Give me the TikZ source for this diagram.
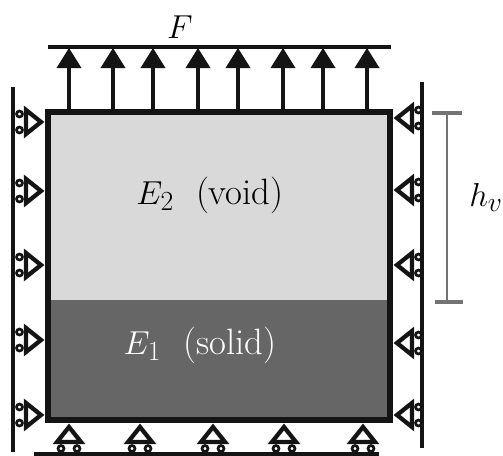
\documentclass[tikz,border=0pt]{standalone}
\usepackage{tikz}

\definecolor{voidgray}{gray}{0.85}
\definecolor{solidgray}{gray}{0.40}
\definecolor{inkblack}{gray}{0.08}
\definecolor{dimgray}{gray}{0.45}

\tikzset{
  wall/.style={draw=inkblack, line width=4.5pt},
  rod/.style={draw=inkblack, line width=2.6pt},
  bar/.style={draw=inkblack, line width=3.1pt},
  head/.style={fill=inkblack, draw=none},
  pin/.style={draw=inkblack, line width=3.2pt, fill=white, line join=miter},
  wheel/.style={draw=inkblack, line width=2pt, fill=white},
  dimline/.style={draw=dimgray, line width=1.6pt},
  dimcap/.style={draw=dimgray, line width=2.4pt},
  label/.style={inner sep=0pt, font=\fontsize{27.5}{32}\selectfont}
}

\begin{document}
\begin{tikzpicture}[x=0.75pt, y=-0.75pt]
  \newcommand{\storeCoordinate}[3]{
    \pgfcoordinate{#1}{\pgfpointxy{#2}{#3}}
  }
  % one roller support, tip at #1, turned by #2
  \newcommand{\rollerSupport}[2]{
    \begin{scope}[shift={(#1)}, rotate=#2]
      \draw[wheel] (-8,24.5) circle (3);
      \draw[wheel] (8,24.5) circle (3);
      \draw[pin] (0,3) -- (-12,18) -- (12,18) -- cycle;
    \end{scope}
  }

  \useasboundingbox (0,0) rectangle (503,455);

  \storeCoordinate{boxNW}{48}{112}
  \storeCoordinate{boxSE}{389.5}{420}
  \storeCoordinate{splitW}{48}{300}
  \storeCoordinate{splitE}{389.5}{300}

  % material layers
  \fill[voidgray] (boxNW) rectangle (splitE);
  \fill[solidgray] (splitW) rectangle (boxSE);
  \draw[wall, line join=miter] (boxNW) rectangle (boxSE);

  % load
  \storeCoordinate{barW}{48}{47}
  \storeCoordinate{barE}{391}{47}
  \draw[bar] (barW) -- (barE);
  \foreach \x in {69,113,153,198,238,283,323,367} {
    \draw[rod] (\x,110) -- (\x,60);
    \fill[head] (\x,48) -- (\x+12.5,68) -- (\x-12.5,68) -- cycle;
  }

  % walls
  \storeCoordinate{wallLT}{13}{87}
  \storeCoordinate{wallLB}{13}{452}
  \storeCoordinate{wallRT}{422}{82}
  \storeCoordinate{wallRB}{422}{448}
  \storeCoordinate{floorW}{34}{454}
  \storeCoordinate{floorE}{379}{454}
  \draw[bar] (wallLT) -- (wallLB);
  \draw[bar, line width=3.7pt] (wallRT) -- (wallRB);
  \draw[bar] (floorW) -- (floorE);

  % supports
  \foreach \y in {122,191,265,340,415} {
    \rollerSupport{44,\y}{-90}
  }
  \foreach \y in {118,190,265,343,415} {
    \rollerSupport{394,\y}{90}
  }
  \foreach \x in {69,140,213,284,363} {
    \rollerSupport{\x,424}{0}
  }

  % height of the void
  \storeCoordinate{dimT}{447}{113}
  \storeCoordinate{dimB}{447}{302}
  \draw[dimline] (dimT) -- (dimB);
  \draw[dimcap] (432,113) -- (462,113);
  \draw[dimcap] (435,302) -- (463,302);

  % labels
  \node[label] (loadF) at (180,27) {$F$};
  \node[label] (voidE) at (210,195) {$E_2$\ \ (void)};
  \node[label, text=white] (solidE) at (200,345) {$E_1$\ \ (solid)};
  \node[label] (heightV) at (486,197) {$h_v$};
\end{tikzpicture}
\end{document}
